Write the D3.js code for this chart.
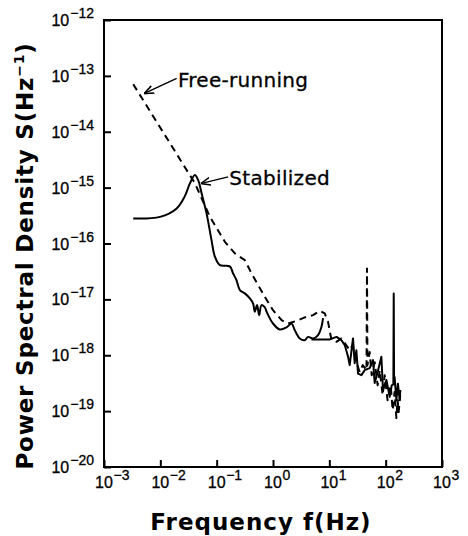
<!DOCTYPE html>
<html>
<head>
<meta charset="utf-8">
<script src="https://cdn.jsdelivr.net/npm/d3@7"></script>
<style>
  html, body { margin: 0; padding: 0; background: #fff; }
  svg { display: block; }
</style>
</head>
<body>
<svg id="chart" width="468" height="536"></svg>
<script>
// ---------------- data ----------------
const xTickExps = [-3, -2, -1, 0, 1, 2, 3];
const yTickExps = [-12, -13, -14, -15, -16, -17, -18, -19, -20];

// Free-running (dashed)
const freeF = [0.0033, 0.041, 0.076, 0.14, 0.21, 0.316, 0.416, 0.545, 0.716, 1.00, 1.42, 1.85, 2.61, 3.66, 5.14, 6.76, 8.28, 9.49, 10.9, 13.4,
  16.4, 18.8, 23.0, 26.0, 29.4, 34.6, 39.1, 45.7, 46.6, 47.5, 52, 56.5, 63.8, 72.1, 78.3, 88.5, 96, 108, 123, 133, 144, 155, 163, 170, 181];
const freeS = [7.1e-14, 1.2e-15, 3.0e-16, 1.07e-16, 6.65e-17, 5.05e-17, 2.92e-17, 1.8e-17, 1.11e-17, 6.4e-18, 4.25e-18, 3.7e-18, 4.13e-18, 4.75e-18, 5.22e-18, 6.24e-18, 5.6e-18, 3.96e-18, 1.86e-18, 1.74e-18,
  2.0e-18, 1.65e-18, 1.23e-18, 1.52e-18, 8.2e-19, 5.0e-19, 6.65e-19, 5.4e-19, 3.58e-17, 6.65e-19, 1.14e-18, 4.4e-19, 7.5e-19, 2.9e-19, 5.4e-19, 1.93e-19, 4.4e-19, 1.57e-19, 2.9e-19, 1.04e-19, 2.2e-19, 7.5e-20, 1.57e-19, 9.6e-20, 1.93e-19];

// Stabilized (solid), low-frequency part
const stabLowF = [0.0033, 0.0099, 0.0195, 0.027, 0.0335, 0.041, 0.047, 0.054, 0.066, 0.081, 0.093, 0.114, 0.171, 0.196, 0.225, 0.258, 0.316, 0.388, 0.444, 0.475, 0.522, 0.568, 0.625, 0.716, 0.776,
  1.00, 1.32, 1.73, 2.13, 2.44, 2.99, 3.66, 4.19, 5.14, 6.31, 7.24, 7.73];
const stabLowS = [2.8e-16, 3.0e-16, 4.25e-16, 6.9e-16, 1.19e-15, 1.68e-15, 1.36e-15, 7.9e-16, 3.5e-16, 1.15e-16, 5.8e-17, 4.1e-17, 3.9e-17, 2.9e-17, 2.2e-17, 1.47e-17, 1.28e-17, 1.04e-17, 8.4e-18, 6.0e-18, 7.9e-18, 5.2e-18, 7.9e-18, 7.2e-18, 5.9e-18,
  3.7e-18, 2.9e-18, 3.15e-18, 3.7e-18, 2.8e-18, 2.0e-18, 1.86e-18, 2.13e-18, 2.0e-18, 2.3e-18, 3.2e-18, 4.6e-18];

// Stabilized (solid), high-frequency part
const stabHighF = [4.82, 10.2, 13.4, 16.4, 18.8, 21.5, 23.0, 26.3, 28.2, 30.2, 32.3, 37.1, 42.4, 52, 59.6, 63.8, 72.1, 83.9, 89.6, 103, 118, 128, 137, 139, 141, 144, 155, 165, 177, 182];
const stabHighS = [1.92e-18, 1.92e-18, 2.13e-18, 1.86e-18, 1.52e-18, 9.4e-19, 6.65e-19, 2.0e-18, 7.2e-19, 1.23e-18, 4.7e-19, 4.4e-19, 5.4e-19, 5.9e-19, 8.2e-19, 3.2e-19, 5.0e-19, 9.4e-19, 2.4e-19, 3.6e-19, 1.8e-19, 2.9e-19, 3.0e-19, 1.28e-17, 3.5e-19, 4.1e-19, 1.57e-19, 3.1e-19, 1.57e-19, 2.4e-19];

// Annotations
const annoLabels = ["Free-running", "Stabilized"];
const annoTextF = [0.0205, 0.168];
const annoTextS = [6.3e-14, 1.11e-15];
const annoFromF = [0.0195, 0.16];
const annoFromS = [9.0e-14, 1.56e-15];
const annoToF = [0.00533, 0.054];
const annoToS = [4.9e-14, 1.19e-15];

// ---------------- drawing ----------------
const svg = d3.select("#chart");
const L = 104, R = 442, T = 20, B = 467;

const x = d3.scaleLog().domain([1e-3, 1e3]).range([L, R]);
const y = d3.scaleLog().domain([1e-20, 1e-12]).range([B, T]);

const tickFont = "'Liberation Sans', Arial, sans-serif";
const titleFont = "'DejaVu Sans', sans-serif";

// ticks (inward)
const gy = svg.append("g").attr("transform", `translate(${L},0)`)
  .call(d3.axisLeft(y).tickValues(yTickExps.map(e => Math.pow(10, e))).tickSize(-7).tickFormat(""));
const gx = svg.append("g").attr("transform", `translate(0,${B})`)
  .call(d3.axisBottom(x).tickValues(xTickExps.map(e => Math.pow(10, e))).tickSize(-7).tickFormat(""));
[gy, gx].forEach(g => {
  g.select(".domain").remove();
  g.selectAll(".tick line").attr("stroke", "#000").attr("stroke-width", 2);
});

// frame
svg.append("rect").attr("x", L).attr("y", T).attr("width", R - L).attr("height", B - T)
  .attr("fill", "none").attr("stroke", "#000").attr("stroke-width", 2);

// y tick labels
yTickExps.forEach(e => {
  const t = svg.append("text")
    .attr("x", 94).attr("y", y(Math.pow(10, e)) + 6)
    .attr("text-anchor", "end")
    .attr("font-family", tickFont).attr("font-size", 16).attr("fill", "#000")
    .attr("stroke", "#000").attr("stroke-width", 0.3);
  t.append("tspan").text("10");
  t.append("tspan").attr("dy", -8).attr("dx", 1).attr("font-size", 14).text("\u2212" + Math.abs(e));
});

// x tick labels
xTickExps.forEach(e => {
  const cx = x(Math.pow(10, e));
  svg.append("text")
    .attr("x", cx).attr("y", 488)
    .attr("text-anchor", "middle")
    .attr("font-family", tickFont).attr("font-size", 16).attr("fill", "#000")
    .attr("stroke", "#000").attr("stroke-width", 0.3)
    .text("10");
  svg.append("text")
    .attr("x", cx + 9.5).attr("y", 480)
    .attr("text-anchor", "start")
    .attr("font-family", tickFont).attr("font-size", 14).attr("fill", "#000")
    .attr("stroke", "#000").attr("stroke-width", 0.3)
    .text(e < 0 ? "\u2212" + Math.abs(e) : String(e));
});

// axis titles
svg.append("text")
  .attr("x", 261).attr("y", 530)
  .attr("text-anchor", "middle")
  .attr("font-family", titleFont).attr("font-weight", "bold").attr("font-size", 23)
  .attr("letter-spacing", 1).attr("fill", "#000")
  .text("Frequency f(Hz)");

const yt = svg.append("text")
  .attr("transform", "translate(33,256) rotate(-90)")
  .attr("text-anchor", "middle")
  .attr("font-family", titleFont).attr("font-weight", "bold").attr("font-size", 23)
  .attr("letter-spacing", 0.8).attr("fill", "#000");
yt.append("tspan").text("Power Spectral Density  S(Hz");
yt.append("tspan").attr("dy", -9).attr("font-size", 14).text("\u22121");
yt.append("tspan").attr("dy", 9).text(")");

// curves
const line = d3.line().x(d => x(d[0])).y(d => y(d[1])).curve(d3.curveLinear);
const zip = (a, b) => a.map((v, i) => [v, b[i]]);

svg.append("path").datum(zip(freeF, freeS)).attr("d", line)
  .attr("fill", "none").attr("stroke", "#000").attr("stroke-width", 2)
  .attr("stroke-dasharray", "7,5").attr("stroke-linejoin", "round");
svg.append("path").datum(zip(stabLowF, stabLowS)).attr("d", line.curve(d3.curveCatmullRom.alpha(0.5)))
  .attr("fill", "none").attr("stroke", "#000").attr("stroke-width", 2).attr("stroke-linejoin", "round");
svg.append("path").datum(zip(stabHighF, stabHighS)).attr("d", line.curve(d3.curveLinear))
  .attr("fill", "none").attr("stroke", "#000").attr("stroke-width", 2).attr("stroke-linejoin", "round");

// annotations
svg.append("defs").append("marker")
  .attr("id", "arrow").attr("viewBox", "0 0 10 10").attr("refX", 9).attr("refY", 5)
  .attr("markerWidth", 7).attr("markerHeight", 7).attr("orient", "auto")
  .append("path").attr("d", "M0,1 L10,5 L0,9").attr("fill", "none").attr("stroke", "#000").attr("stroke-width", 1.6);

annoLabels.forEach((lab, i) => {
  svg.append("line")
    .attr("x1", x(annoFromF[i])).attr("y1", y(annoFromS[i]))
    .attr("x2", x(annoToF[i])).attr("y2", y(annoToS[i]))
    .attr("stroke", "#000").attr("stroke-width", 1.4)
    .attr("marker-end", "url(#arrow)");
  svg.append("text")
    .attr("x", x(annoTextF[i])).attr("y", y(annoTextS[i]))
    .attr("font-family", titleFont).attr("font-size", 20).attr("letter-spacing", 0.3)
    .attr("fill", "#000").attr("stroke", "#000").attr("stroke-width", 0.3)
    .text(lab);
});
</script>
</body>
</html>
